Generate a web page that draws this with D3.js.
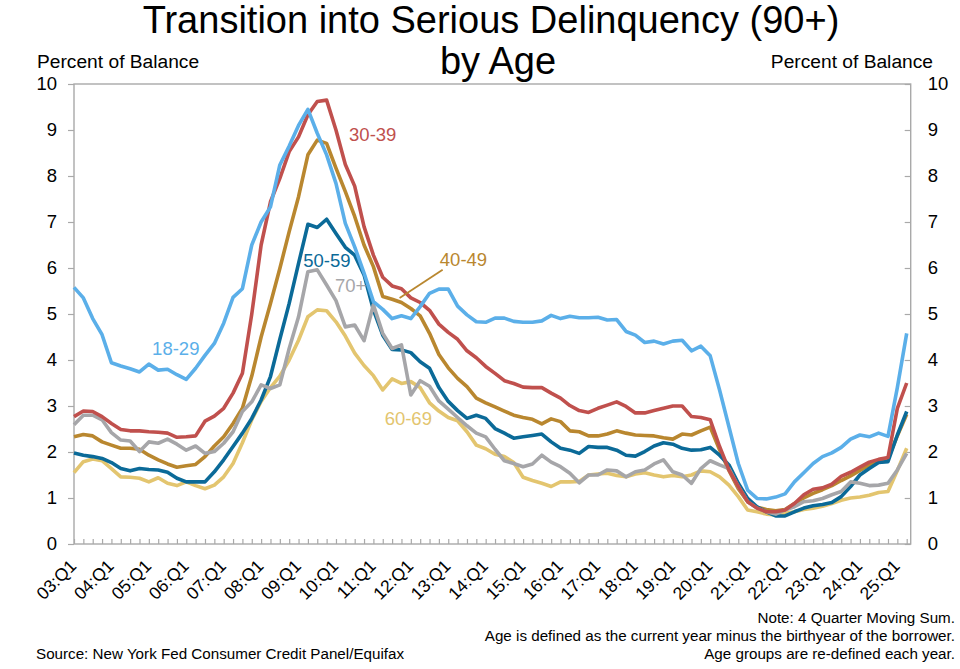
<!DOCTYPE html>
<html>
<head>
<meta charset="utf-8">
<script src="https://cdn.jsdelivr.net/npm/d3@7"></script>
<style>
  body { margin: 0; background: #fff; }
  svg { font-family: "Liberation Sans", Arial, sans-serif; }
</style>
</head>
<body>
<div id="chart-container"></div>
<script>
/* CONSTANTS AND GLOBALS */
const width = 960,
  height = 669,
  margin = { top: 84, bottom: 125, left: 74, right: 49.3 },
  lastPointX = 906.7, // the series stop a few px short of the right axis
  axisColor = "#a9a9a9";

/* DATA */
const years = ["03", "04", "05", "06", "07", "08", "09", "10", "11", "12", "13", "14",
  "15", "16", "17", "18", "19", "20", "21", "22", "23", "24", "25"];
const quarterNames = ["Q1", "Q2", "Q3", "Q4"];
const lastQuarter = "25:Q2";
const yTicks = [0, 1, 2, 3, 4, 5, 6, 7, 8, 9, 10];
const yearLabels = years.map(y => y + ":Q1");

// percent of balance, 03:Q1 .. 25:Q2
const age18to29 = [
  5.58, 5.35, 4.90, 4.55, 3.94, 3.87, 3.81, 3.74, 3.91, 3.78,
  3.80, 3.68, 3.58, 3.82, 4.10, 4.36, 4.80, 5.36, 5.55, 6.50,
  7.00, 7.33, 8.24, 8.65, 9.10, 9.45, 8.93, 8.46, 7.84, 6.97,
  6.46, 5.89, 5.27, 5.10, 4.90, 4.96, 4.90, 5.16, 5.45, 5.54,
  5.54, 5.17, 4.98, 4.83, 4.82, 4.91, 4.91, 4.84, 4.82, 4.82,
  4.85, 4.97, 4.90, 4.95, 4.92, 4.92, 4.93, 4.87, 4.88, 4.62,
  4.54, 4.38, 4.41, 4.35, 4.41, 4.43, 4.20, 4.30, 4.09, 3.35,
  2.55, 1.75, 1.17, 0.99, 0.98, 1.02, 1.09, 1.35, 1.55, 1.75,
  1.90, 1.98, 2.10, 2.28, 2.37, 2.33, 2.41, 2.34, 3.40, 4.58
];
const age30to39 = [
  2.77, 2.89, 2.88, 2.77, 2.62, 2.49, 2.46, 2.46, 2.44, 2.43,
  2.41, 2.32, 2.33, 2.35, 2.67, 2.78, 2.95, 3.28, 3.71, 5.00,
  6.50, 7.44, 7.95, 8.53, 8.85, 9.33, 9.62, 9.65, 9.00, 8.25,
  7.78, 6.90, 6.28, 5.80, 5.61, 5.55, 5.35, 5.25, 5.08, 4.78,
  4.60, 4.45, 4.20, 4.05, 3.86, 3.71, 3.55, 3.49, 3.41, 3.40,
  3.40, 3.28, 3.17, 3.01, 2.90, 2.86, 2.95, 3.02, 3.09, 2.99,
  2.85, 2.85, 2.90, 2.95, 3.00, 3.00, 2.77, 2.75, 2.70, 2.12,
  1.61, 1.25, 0.92, 0.78, 0.70, 0.70, 0.74, 0.88, 1.07, 1.19,
  1.22, 1.30, 1.47, 1.56, 1.67, 1.78, 1.84, 1.88, 2.95, 3.50
];
const age40to49 = [
  2.33, 2.38, 2.35, 2.22, 2.15, 2.08, 2.08, 2.06, 1.93, 1.83,
  1.74, 1.67, 1.70, 1.73, 1.90, 2.13, 2.33, 2.62, 2.95, 3.65,
  4.50, 5.23, 5.99, 6.79, 7.55, 8.46, 8.78, 8.71, 8.17, 7.66,
  7.12, 6.50, 6.03, 5.38, 5.32, 5.25, 5.12, 4.96, 4.58, 4.12,
  3.83, 3.60, 3.42, 3.17, 3.07, 2.98, 2.89, 2.80, 2.75, 2.71,
  2.61, 2.72, 2.66, 2.46, 2.44, 2.35, 2.35, 2.39, 2.46, 2.41,
  2.37, 2.36, 2.35, 2.31, 2.28, 2.39, 2.37, 2.46, 2.54, 2.05,
  1.60, 1.20, 0.92, 0.80, 0.75, 0.72, 0.75, 0.88, 1.00, 1.10,
  1.18, 1.27, 1.38, 1.48, 1.60, 1.72, 1.80, 1.85, 2.35, 2.82
];
const age50to59 = [
  1.98, 1.93, 1.90, 1.86, 1.77, 1.64, 1.59, 1.64, 1.62, 1.61,
  1.56, 1.43, 1.35, 1.35, 1.35, 1.57, 1.83, 2.12, 2.41, 2.73,
  3.13, 3.64, 4.45, 5.23, 6.10, 6.95, 6.88, 7.06, 6.75, 6.45,
  6.28, 5.85, 5.09, 4.54, 4.23, 4.22, 4.16, 3.96, 3.82, 3.40,
  3.10, 2.90, 2.73, 2.80, 2.73, 2.51, 2.41, 2.30, 2.33, 2.36,
  2.39, 2.22, 2.08, 2.04, 1.97, 2.12, 2.10, 2.10, 2.04, 1.93,
  1.91, 2.01, 2.13, 2.20, 2.17, 2.08, 2.04, 2.05, 2.10, 1.93,
  1.72, 1.32, 0.99, 0.81, 0.70, 0.61, 0.61, 0.70, 0.78, 0.83,
  0.86, 0.90, 1.03, 1.25, 1.50, 1.64, 1.77, 1.79, 2.37, 2.88
];
const age60to69 = [
  1.55, 1.79, 1.85, 1.81, 1.64, 1.46, 1.45, 1.43, 1.35, 1.44,
  1.32, 1.27, 1.35, 1.27, 1.20, 1.28, 1.46, 1.75, 2.20, 2.70,
  3.10, 3.40, 3.65, 4.00, 4.43, 4.94, 5.09, 5.07, 4.83, 4.52,
  4.15, 3.88, 3.66, 3.35, 3.59, 3.49, 3.53, 3.40, 3.07, 2.89,
  2.75, 2.68, 2.44, 2.15, 2.07, 1.95, 1.90, 1.77, 1.45, 1.38,
  1.32, 1.25, 1.35, 1.35, 1.36, 1.50, 1.52, 1.54, 1.49, 1.46,
  1.52, 1.55, 1.50, 1.46, 1.49, 1.46, 1.50, 1.59, 1.57, 1.46,
  1.28, 1.03, 0.74, 0.70, 0.65, 0.63, 0.67, 0.70, 0.75, 0.78,
  0.82, 0.88, 0.95, 1.00, 1.02, 1.06, 1.12, 1.14, 1.60, 2.08
];
const age70plus = [
  2.59, 2.80, 2.80, 2.70, 2.42, 2.26, 2.24, 2.01, 2.22, 2.19,
  2.28, 2.17, 2.04, 2.13, 1.97, 2.01, 2.19, 2.44, 2.88, 3.09,
  3.46, 3.38, 3.46, 4.25, 4.94, 5.92, 5.96, 5.63, 5.29, 4.72,
  4.76, 4.42, 5.20, 4.58, 4.25, 4.33, 3.24, 3.55, 3.43, 3.11,
  2.93, 2.75, 2.57, 2.41, 2.33, 2.06, 1.81, 1.75, 1.68, 1.74,
  1.93, 1.78, 1.68, 1.54, 1.33, 1.50, 1.50, 1.61, 1.59, 1.46,
  1.57, 1.61, 1.74, 1.83, 1.57, 1.50, 1.32, 1.64, 1.81, 1.72,
  1.64, 1.25, 0.92, 0.78, 0.70, 0.65, 0.74, 0.81, 0.92, 0.94,
  0.99, 1.07, 1.14, 1.35, 1.32, 1.27, 1.28, 1.32, 1.61, 1.97
];

// series in drawing order (last one on top)
const series = [
  { name: "60-69", color: "#e3c56f", values: age60to69 },
  { name: "40-49", color: "#b9872f", values: age40to49 },
  { name: "50-59", color: "#0b6a98", values: age50to59 },
  { name: "70+", color: "#a6a6a9", values: age70plus },
  { name: "30-39", color: "#c0504d", values: age30to39 },
  { name: "18-29", color: "#5bafe9", values: age18to29 }
];

// in-chart labels: [text, quarter index, value] -> placed via the scales
const seriesLabels = [
  { name: "30-39", at: 29.4, value: 8.76 },
  { name: "18-29", at: 8.35, value: 4.11 },
  { name: "50-59", at: 24.5, value: 6.02 },
  { name: "70+", at: 27.9, value: 5.48 },
  { name: "40-49", at: 39.1, value: 6.04 },
  { name: "60-69", at: 33.2, value: 2.59 }
];
const leader40 = { from: [34.8, 5.35], to: [39.4, 5.96] };

const notes = [
  "Note: 4 Quarter Moving Sum.",
  "Age is defined as the current year minus the birthyear of the borrower.",
  "Age groups are re-defined each year."
];

// quarter categories 03:Q1 .. 25:Q2
const quarters = [];
years.forEach(y => quarterNames.forEach(q => quarters.push(y + ":" + q)));
quarters.splice(quarters.indexOf(lastQuarter) + 1);

/* SVG */
const svg = d3.select("#chart-container")
  .append("svg")
  .attr("width", width)
  .attr("height", height);

/* SCALES */
const xScale = d3.scalePoint()
  .domain(quarters)
  .range([margin.left, lastPointX]);

const idxScale = d3.scaleLinear()
  .domain([0, quarters.length - 1])
  .range([margin.left, lastPointX]);

const yScale = d3.scaleLinear()
  .domain([0, 10])
  .range([height - margin.bottom, margin.top]);

const plotRight = width - margin.right;

// + PLOT BORDER
svg.append("rect")
  .attr("x", margin.left)
  .attr("y", margin.top)
  .attr("width", plotRight - margin.left)
  .attr("height", height - margin.bottom - margin.top)
  .attr("fill", "none")
  .attr("stroke", axisColor)
  .attr("stroke-width", 1.4);

// + AXES
const yAxisLeft = d3.axisLeft(yScale)
  .tickValues(yTicks)
  .tickSizeInner(6)
  .tickSizeOuter(0)
  .tickPadding(11);

const yAxisRight = d3.axisRight(yScale)
  .tickValues(yTicks)
  .tickSizeInner(-6)
  .tickSizeOuter(0)
  .tickPadding(17);

const xAxis = d3.axisBottom(xScale)
  .tickSizeInner(-5)
  .tickSizeOuter(0)
  .tickFormat(d => yearLabels.includes(d) ? d : "");

svg.append("g")
  .attr("class", "yAxis")
  .attr("transform", `translate(${margin.left}, 0)`)
  .call(yAxisLeft);

svg.append("g")
  .attr("class", "yAxis")
  .attr("transform", `translate(${plotRight}, 0)`)
  .call(yAxisRight);

svg.append("g")
  .attr("class", "xAxis")
  .attr("transform", `translate(0, ${height - margin.bottom})`)
  .call(xAxis);

svg.selectAll(".yAxis, .xAxis").select(".domain").remove();
svg.selectAll(".yAxis line, .xAxis line")
  .attr("stroke", axisColor)
  .attr("stroke-width", 1.2);
svg.selectAll(".yAxis text")
  .attr("font-size", 18.5)
  .attr("font-family", "Liberation Sans, Arial, sans-serif")
  .attr("fill", "#000");

// rotated quarter labels
svg.selectAll(".xAxis text")
  .attr("font-size", 17.5)
  .attr("font-family", "Liberation Sans, Arial, sans-serif")
  .attr("fill", "#000")
  .attr("text-anchor", "end")
  .attr("x", 0)
  .attr("y", 0)
  .attr("dy", 0)
  .attr("transform", "translate(3, 23) rotate(-45)");

// + LINES
const lineGen = d3.line()
  .x((d, i) => xScale(quarters[i]))
  .y(d => yScale(d))
  .curve(d3.curveLinear);

svg.selectAll(".line")
  .data(series)
  .join("path")
  .attr("class", "line")
  .attr("data-name", d => d.name)
  .attr("fill", "none")
  .attr("stroke", d => d.color)
  .attr("stroke-width", 3.6)
  .attr("stroke-linejoin", "round")
  .attr("d", d => lineGen(d.values));

// + SERIES LABELS
const colorOf = name => series.find(s => s.name === name).color;

svg.append("line")
  .attr("x1", idxScale(leader40.from[0]))
  .attr("y1", yScale(leader40.from[1]))
  .attr("x2", idxScale(leader40.to[0]))
  .attr("y2", yScale(leader40.to[1]))
  .attr("stroke", colorOf("40-49"))
  .attr("stroke-width", 1.8);

svg.selectAll(".series-label")
  .data(seriesLabels)
  .join("text")
  .attr("class", "series-label")
  .attr("x", d => idxScale(d.at))
  .attr("y", d => yScale(d.value))
  .attr("font-size", 18.5)
  .attr("fill", d => colorOf(d.name))
  .text(d => d.name);

// + TITLE AND AXIS TITLES
svg.append("text")
  .attr("x", 491)
  .attr("y", 33)
  .attr("text-anchor", "middle")
  .attr("font-size", 38)
  .text("Transition into Serious Delinquency (90+)");

svg.append("text")
  .attr("x", 498)
  .attr("y", 74)
  .attr("text-anchor", "middle")
  .attr("font-size", 38)
  .text("by Age");

svg.append("text")
  .attr("x", 37)
  .attr("y", 68)
  .attr("font-size", 19.2)
  .text("Percent of Balance");

svg.append("text")
  .attr("x", 933)
  .attr("y", 68)
  .attr("text-anchor", "end")
  .attr("font-size", 19.2)
  .text("Percent of Balance");

// + FOOTNOTES
svg.append("text")
  .attr("x", 36)
  .attr("y", 659)
  .attr("font-size", 15.2)
  .text("Source: New York Fed Consumer Credit Panel/Equifax");

svg.selectAll(".note")
  .data(notes)
  .join("text")
  .attr("class", "note")
  .attr("x", 955)
  .attr("y", (d, i) => 623 + i * 18)
  .attr("text-anchor", "end")
  .attr("font-size", 15.2)
  .text(d => d);
</script>
</body>
</html>
